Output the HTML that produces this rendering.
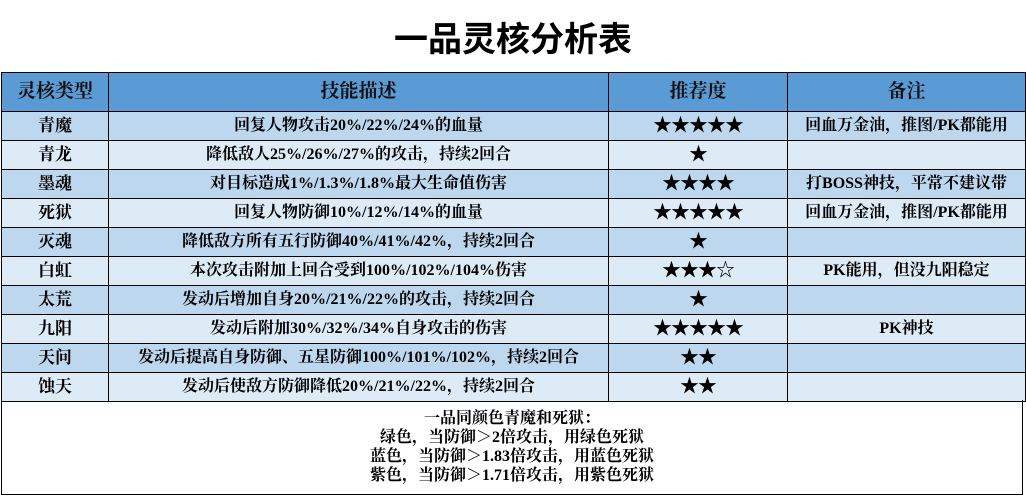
<!DOCTYPE html>
<html><head><meta charset="utf-8"><style>
body{margin:0;width:1026px;height:497px;background:#fff;overflow:hidden;font-family:"Liberation Serif","Noto Serif CJK SC",serif;}
.t{position:absolute;left:0;top:15px;width:1026px;text-align:center;font-family:"Liberation Sans","Noto Sans CJK SC",sans-serif;font-weight:bold;font-size:34px;line-height:50px;color:#000}
table{position:absolute;left:1px;top:72px;border-collapse:collapse;width:1024px;table-layout:fixed}
td{border:1px solid #000;text-align:center;padding:0;font-size:16px;font-weight:bold;height:28px;line-height:28px;white-space:nowrap;overflow:hidden}
td:first-child{font-size:17px}
tr.h td{background:#5b9bd5;height:38px;font-size:19px;color:#111}
tr.a td{background:#bdd7ee}
tr.b td{background:#ddebf7}
td.st{font-size:19px;letter-spacing:-1px}
.f{position:absolute;left:1px;top:400px;width:1022px;height:95px;border:1px solid #000;border-top:none;text-align:center;font-size:16px;font-weight:bold;line-height:19px;padding-top:9px;box-sizing:border-box}
</style></head><body>
<div class="t">一品灵核分析表</div>
<table>
<colgroup><col style="width:107px"><col style="width:500px"><col style="width:179px"><col style="width:238px"></colgroup>
<tr class="h"><td>灵核类型</td><td>技能描述</td><td>推荐度</td><td>备注</td></tr>
<tr class="a"><td>青魔</td><td>回复人物攻击20%/22%/24%的血量</td><td class="st">★★★★★</td><td>回血万金油，推图/PK都能用</td></tr>
<tr class="b"><td>青龙</td><td>降低敌人25%/26%/27%的攻击，持续2回合</td><td class="st">★</td><td></td></tr>
<tr class="a"><td>墨魂</td><td>对目标造成1%/1.3%/1.8%最大生命值伤害</td><td class="st">★★★★</td><td>打BOSS神技，平常不建议带</td></tr>
<tr class="b"><td>死狱</td><td>回复人物防御10%/12%/14%的血量</td><td class="st">★★★★★</td><td>回血万金油，推图/PK都能用</td></tr>
<tr class="a"><td>灭魂</td><td>降低敌方所有五行防御40%/41%/42%，持续2回合</td><td class="st">★</td><td></td></tr>
<tr class="b"><td>白虹</td><td>本次攻击附加上回合受到100%/102%/104%伤害</td><td class="st">★★★☆</td><td>PK能用，但没九阳稳定</td></tr>
<tr class="a"><td>太荒</td><td>发动后增加自身20%/21%/22%的攻击，持续2回合</td><td class="st">★</td><td></td></tr>
<tr class="b"><td>九阳</td><td>发动后附加30%/32%/34%自身攻击的伤害</td><td class="st">★★★★★</td><td>PK神技</td></tr>
<tr class="a"><td>天问</td><td>发动后提高自身防御、五星防御100%/101%/102%，持续2回合</td><td class="st">★★</td><td></td></tr>
<tr class="b"><td>蚀天</td><td>发动后使敌方防御降低20%/21%/22%，持续2回合</td><td class="st">★★</td><td></td></tr>
</table>
<div class="f">一品同颜色青魔和死狱：<br>绿色，当防御＞2倍攻击，用绿色死狱<br>蓝色，当防御＞1.83倍攻击，用蓝色死狱<br>紫色，当防御＞1.71倍攻击，用紫色死狱</div>
</body></html>
